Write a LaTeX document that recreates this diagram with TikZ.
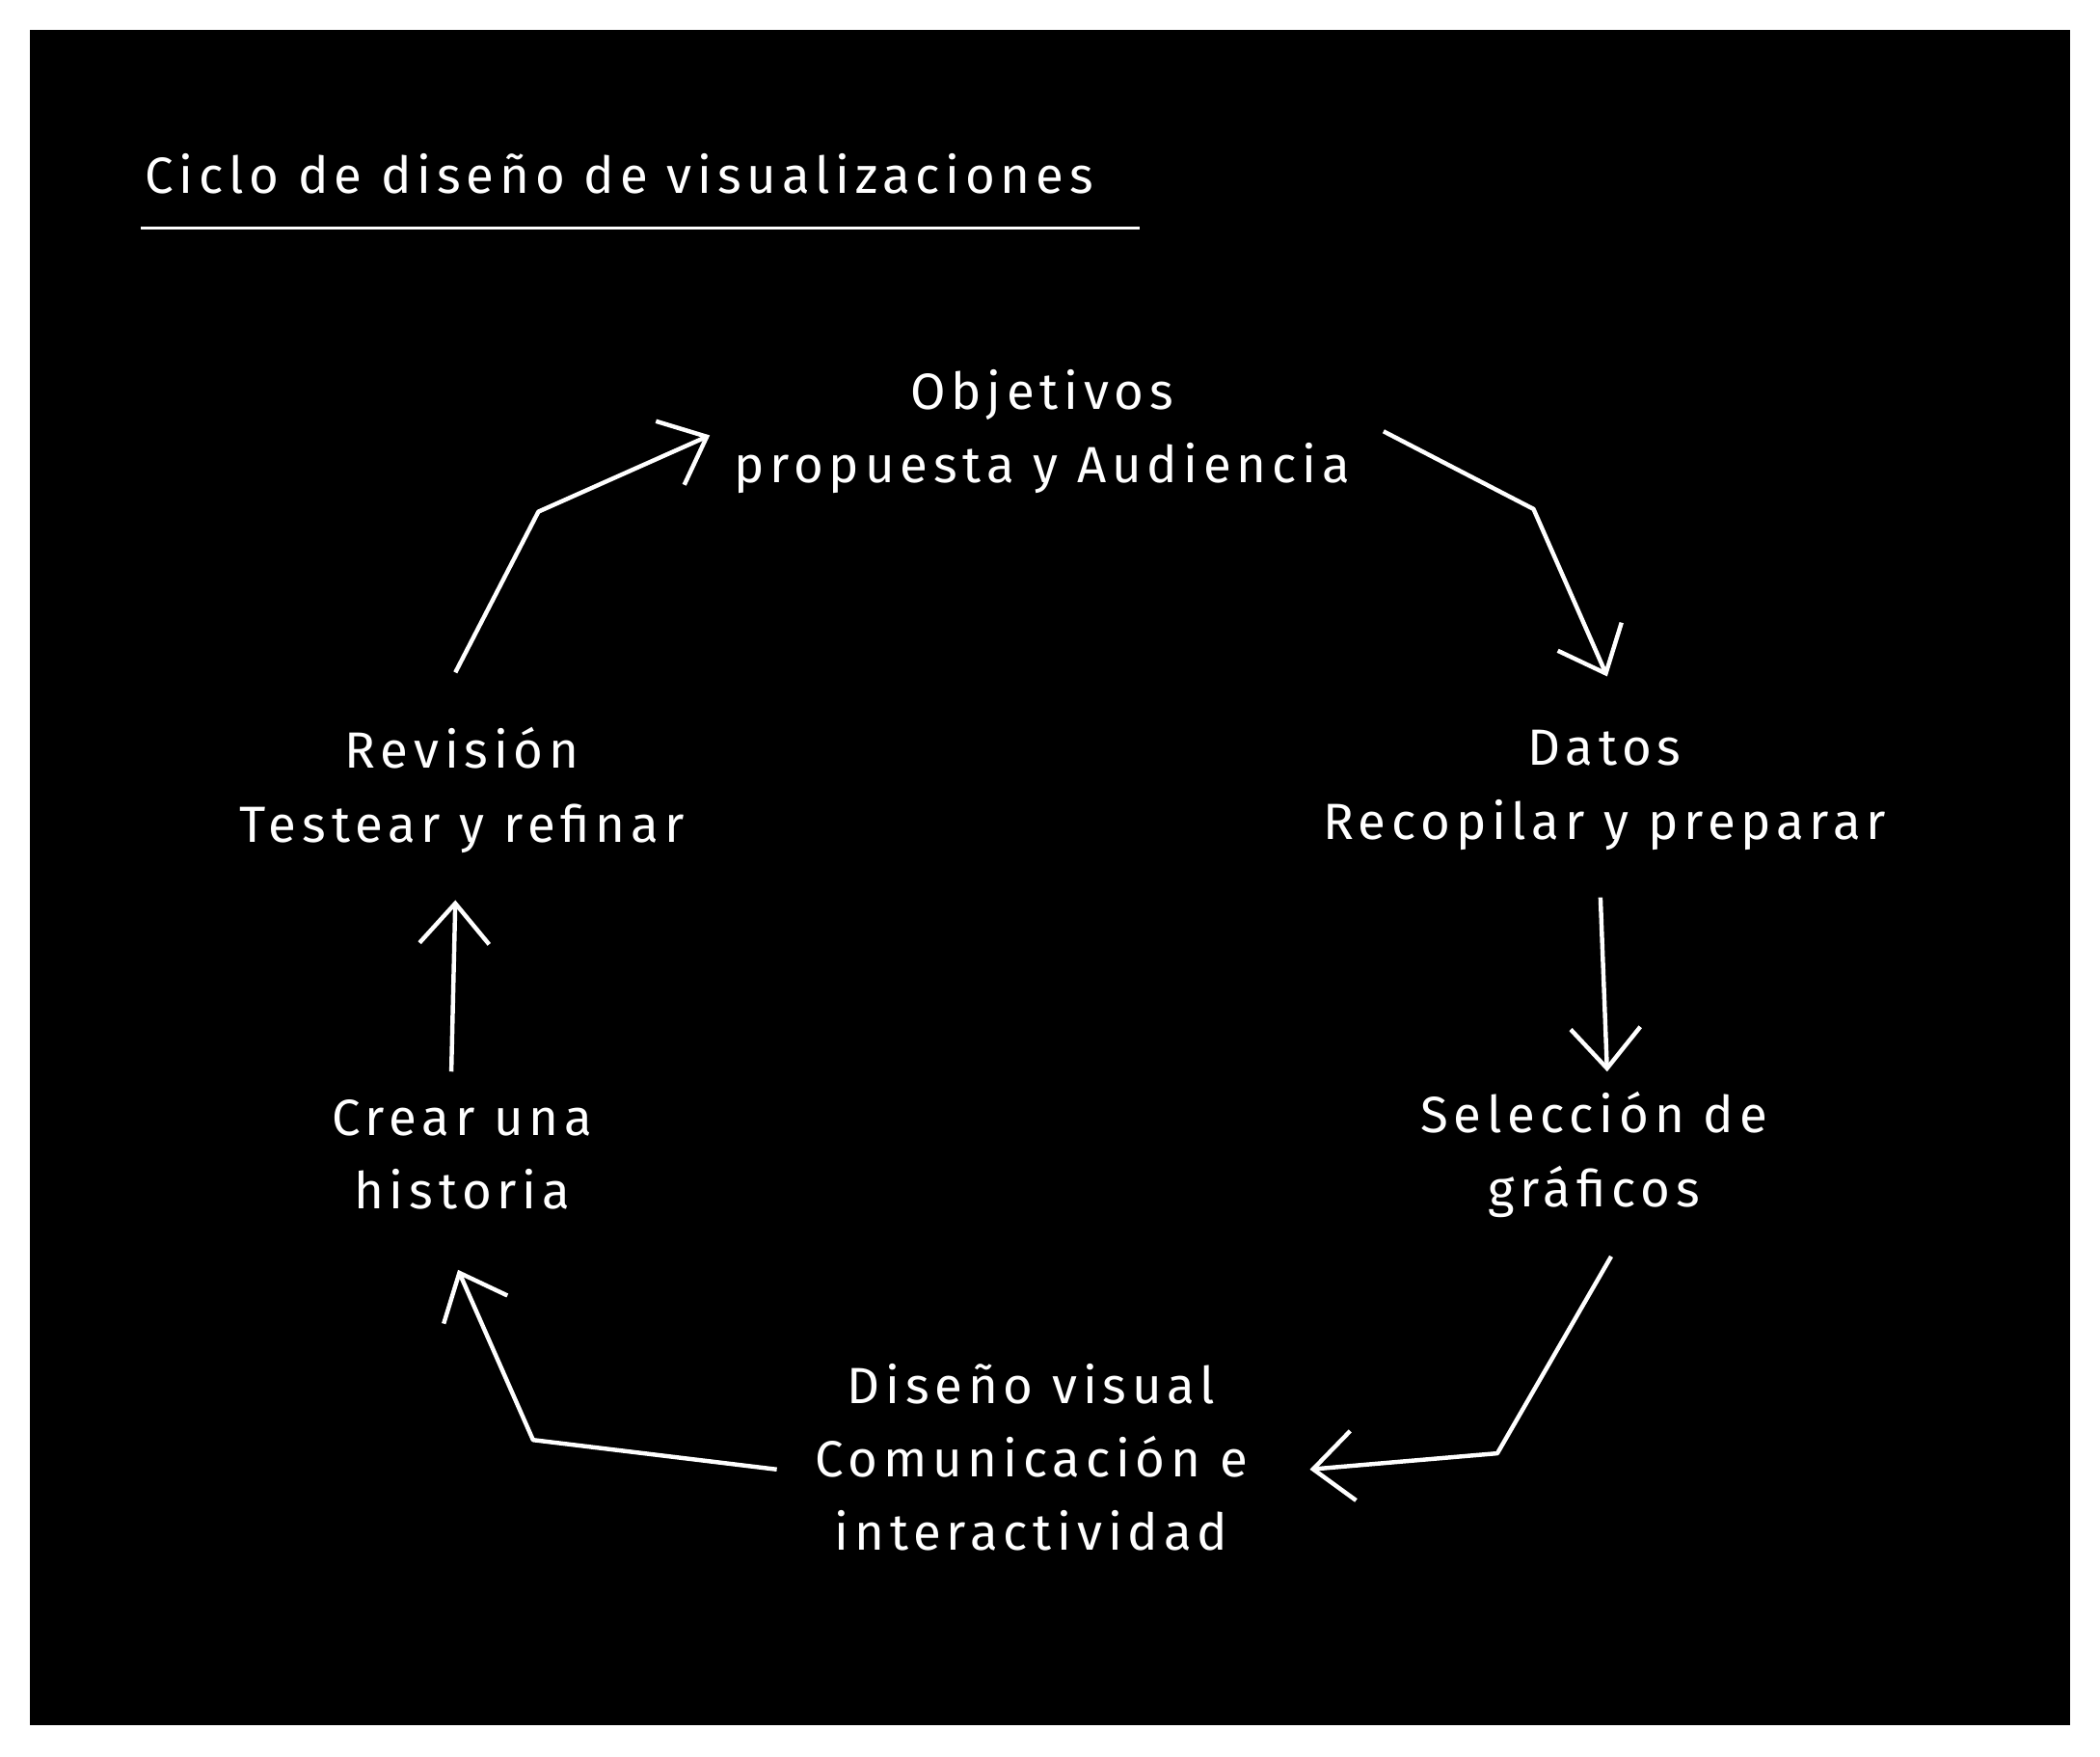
\documentclass[tikz,border=0pt]{standalone}
\usepackage{fontspec}
\setmainfont[LetterSpace=11]{Fira Sans}
\usetikzlibrary{arrows.meta}
\begin{document}
\begin{tikzpicture}[x=0.5pt,y=-0.5pt,
  lbl/.style={text=white,align=center,font=\fontsize{19}{27.5}\selectfont,inner sep=0pt},
  conn/.style={draw=white,line width=1.6pt,line join=round,-{Straight Barb[length=15pt,width=26pt,line width=1.6pt]}}]
\useasboundingbox (0,0) rectangle (1568,1311);
\fill[white] (0,0) rectangle (1568,1311);
\fill[black] (22,22) rectangle (1546,1288);
\node[lbl,anchor=west,font=\fontsize{19}{24}\selectfont] (title) at (108,130) {Ciclo de diseño de visualizaciones};
\draw[white,line width=1pt] (105,170) -- (851,170);
\node[lbl] (obj) at (778,322) {Objetivos\\propuesta y Audiencia};
\node[lbl] (dat) at (1198,590) {Datos\\Recopilar y preparar};
\node[lbl] (sel) at (1190,862) {Selección de\\gráficos};
\node[lbl] (dis) at (770,1088) {Diseño visual\\Comunicación e\\interactividad};
\node[lbl] (cre) at (345,862) {Crear una\\historia};
\node[lbl] (rev) at (345,590) {Revisión\\Testear y refinar};
\coordinate (a1) at (340,502); \coordinate (b1) at (402,382); \coordinate (c1) at (530,325);
\coordinate (a2) at (1033,322); \coordinate (b2) at (1145,380); \coordinate (c2) at (1200,505);
\coordinate (a3) at (1195,670); \coordinate (c3) at (1200,800);
\coordinate (a4) at (1203,938); \coordinate (b4) at (1118,1085); \coordinate (c4) at (978,1097);
\coordinate (a5) at (580,1097); \coordinate (b5) at (398,1075); \coordinate (c5) at (342,948);
\coordinate (a6) at (337,800); \coordinate (c6) at (340,672);
\draw[conn] (a1) -- (b1) -- (c1);
\draw[conn] (a2) -- (b2) -- (c2);
\draw[conn] (a3) -- (c3);
\draw[conn] (a4) -- (b4) -- (c4);
\draw[conn] (a5) -- (b5) -- (c5);
\draw[conn] (a6) -- (c6);
\end{tikzpicture}
\end{document}
